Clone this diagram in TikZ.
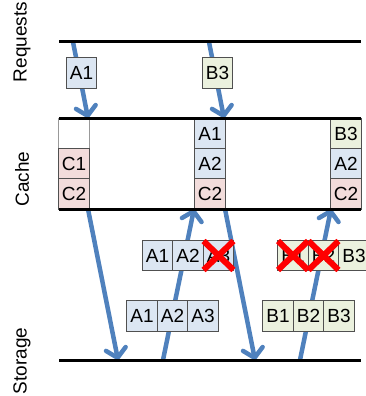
\documentclass[tikz,border=0pt]{standalone}
\usepackage{fontspec}
\setmainfont{Liberation Sans}
\usetikzlibrary{arrows.meta,shapes.misc}
\definecolor{arrowblue}{HTML}{4F81BD}
\definecolor{fillA}{HTML}{DCE6F2}
\definecolor{fillB}{HTML}{EBF1DE}
\definecolor{fillC}{HTML}{F2DCDB}
\definecolor{cellborder}{HTML}{505050}
\begin{document}
\begin{tikzpicture}[x=1pt,y=-1pt,
  font=\fontsize{19}{21}\selectfont,
  timeline/.style={line width=3pt, black},
  flow/.style={line width=4.5pt, arrowblue, -{Straight Barb[length=9pt,width=20pt,round]}},
  cell/.style={draw=cellborder, line width=0.8pt, minimum width=30.5pt, minimum height=30.5pt, inner sep=0pt},
  cellA/.style={cell, fill=fillA},
  cellB/.style={cell, fill=fillB},
  cellC/.style={cell, fill=fillC},
  emptycell/.style={cell, draw=gray!80, fill=white},
  xmark/.style={cross out, draw=red, line width=6pt, minimum width=24pt, minimum height=23pt, inner sep=0pt},
  rowlabel/.style={rotate=90, inner sep=0pt}]
\useasboundingbox (0,0) rectangle (365,396);

% line end points
\coordinate (reqL) at (59,42);   \coordinate (reqR) at (361,42);
\coordinate (ctopL) at (59,118); \coordinate (ctopR) at (361,118);
\coordinate (cbotL) at (59,209); \coordinate (cbotR) at (361,209);
\coordinate (stoL) at (59,360);  \coordinate (stoR) at (361,360);

% arrow end points
\coordinate (a1s) at (73,42);   \coordinate (a1e) at (88,118);
\coordinate (a2s) at (209,42);  \coordinate (a2e) at (224,118);
\coordinate (a3s) at (88,209);  \coordinate (a3e) at (118,360);
\coordinate (a4s) at (163,360); \coordinate (a4e) at (194,209);
\coordinate (a5s) at (225,209); \coordinate (a5e) at (255,360);
\coordinate (a6s) at (300,360); \coordinate (a6e) at (331,209);

% arrows
\draw[flow] (a1s) -- (a1e);
\draw[flow] (a2s) -- (a2e);
\draw[flow] (a3s) -- (a3e);
\draw[flow] (a4s) -- (a4e);
\draw[flow] (a5s) -- (a5e);
\draw[flow] (a6s) -- (a6e);

% row labels
\node[rowlabel] (lreq) at (22,42) {Requests};
\node[rowlabel] (lcache) at (22,179) {Cache};
\node[rowlabel] (lsto) at (22,361) {Storage};

% request boxes
\node[cellA] (rqA1) at (81.5,73) {A1};
\node[cellB] (rqB3) at (217.5,73) {B3};

% cache column 1
\node[emptycell] (c1e) at (74,133.5) {};
\node[cellC] (c1c1) at (74,164) {C1};
\node[cellC] (c1c2) at (74,194) {C2};
% cache column 2
\node[cellA] (c2a1) at (210,133.5) {A1};
\node[cellA] (c2a2) at (210,164) {A2};
\node[cellC] (c2c2) at (210,194) {C2};
% cache column 3
\node[cellB] (c3b3) at (346,133.5) {B3};
\node[cellA] (c3a2) at (346,164) {A2};
\node[cellC] (c3c2) at (346,194) {C2};

% transferred blocks (middle)
\node[cellA] (ma1) at (157.5,255.5) {A1};
\node[cellA] (ma2) at (188,255.5) {A2};
\node[cellA] (ma3) at (218.5,255.5) {A3};
\node[cellB] (mb1) at (293,255.5) {B1};
\node[cellB] (mb2) at (323.5,255.5) {B2};
\node[cellB] (mb3) at (354,255.5) {B3};
\node[xmark] (xa3) at (ma3) {};
\node[xmark] (xb1) at (mb1) {};
\node[xmark] (xb2) at (mb2) {};

% storage blocks
\node[cellA] (sa1) at (142,316) {A1};
\node[cellA] (sa2) at (172.5,316) {A2};
\node[cellA] (sa3) at (203,316) {A3};
\node[cellB] (sb1) at (278,316) {B1};
\node[cellB] (sb2) at (308.5,316) {B2};
\node[cellB] (sb3) at (339,316) {B3};

% timelines
\draw[timeline] (reqL) -- (reqR);
\draw[timeline] (ctopL) -- (ctopR);
\draw[timeline] (cbotL) -- (cbotR);
\draw[timeline] (stoL) -- (stoR);
\end{tikzpicture}
\end{document}
